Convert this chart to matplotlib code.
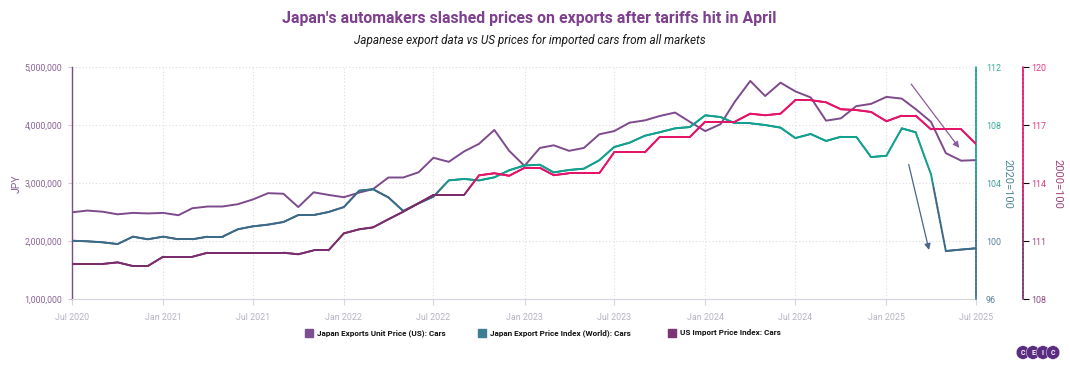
import matplotlib
matplotlib.use("Agg")

import matplotlib.dates as mdates
import matplotlib.pyplot as plt
import matplotlib.transforms as mtransforms
import numpy as np
import pandas as pd
from matplotlib.collections import LineCollection
from matplotlib.colors import LinearSegmentedColormap, Normalize
from matplotlib.patches import Circle, Rectangle
from matplotlib.ticker import FuncFormatter

plt.rcParams["font.family"] = ["Roboto", "DejaVu Sans"]

# ---- data ----
MONTHS = pd.date_range("2020-07-01", "2025-07-01", freq="MS")

JP_UNIT_PRICE = [
    2500000, 2530000, 2510000, 2465000, 2490000, 2480000, 2490000, 2450000,
    2570000, 2600000, 2600000, 2640000, 2720000, 2830000, 2820000, 2590000,
    2845000, 2800000, 2760000, 2840000, 2900000, 3100000, 3100000, 3190000,
    3440000, 3370000, 3550000, 3680000, 3920000, 3560000, 3300000, 3610000,
    3655000, 3560000, 3610000, 3845000, 3900000, 4045000, 4085000, 4160000,
    4220000, 4060000, 3900000, 4020000, 4410000, 4765000, 4505000, 4735000,
    4585000, 4480000, 4080000, 4120000, 4330000, 4370000, 4490000, 4460000,
    4280000, 4060000, 3520000, 3390000, 3400000,
]

JP_EXPORT_INDEX = [
    100.04, 100.00, 99.93, 99.81, 100.32, 100.14, 100.32, 100.14,
    100.14, 100.32, 100.32, 100.83, 101.03, 101.15, 101.33, 101.81,
    101.81, 102.02, 102.36, 103.49, 103.59, 103.03, 102.09, 102.62,
    103.08, 104.20, 104.30, 104.20, 104.41, 104.90, 105.23, 105.28,
    104.75, 104.92, 105.01, 105.59, 106.50, 106.80, 107.28, 107.52,
    107.79, 107.88, 108.69, 108.57, 108.14, 108.14, 108.02, 107.84,
    107.12, 107.40, 106.92, 107.21, 107.21, 105.81, 105.90, 107.79,
    107.52, 104.62, 99.33, 99.43, 99.52,
]

US_IMPORT_INDEX = [
    109.83, 109.83, 109.83, 109.91, 109.72, 109.72, 110.20, 110.20,
    110.20, 110.41, 110.41, 110.41, 110.41, 110.41, 110.41, 110.33,
    110.53, 110.53, 111.41, 111.62, 111.72, 112.14, 112.53, 112.97,
    113.40, 113.40, 113.40, 114.41, 114.52, 114.39, 114.80, 114.80,
    114.42, 114.52, 114.52, 114.52, 115.60, 115.60, 115.60, 116.40,
    116.40, 116.40, 117.19, 117.19, 117.19, 117.60, 117.52, 117.60,
    118.30, 118.30, 118.19, 117.83, 117.79, 117.69, 117.21, 117.50,
    117.50, 116.79, 116.79, 116.79, 116.03,
]

LEFT_TICKS = [1000000, 2000000, 3000000, 4000000, 5000000]
TEAL_TICKS = [96, 100, 104, 108, 112]
PINK_TICKS = [108, 111, 114, 117, 120]

TITLE = "Japan's automakers slashed prices on exports after tariffs hit in April"
SUBTITLE = "Japanese export data vs US prices for imported cars from all markets"
LEGEND_LABELS = [
    "Japan Exports Unit Price (US): Cars",
    "Japan Export Price Index (World): Cars",
    "US Import Price Index: Cars",
]

# arrow annotations: (start date, start value) -> (end date, end value)
PURPLE_ARROW = (("2025-02-20", 4710000), ("2025-05-28", 3610000))
TEAL_ARROW = (("2025-02-15", 105.3), ("2025-03-28", 99.4))

PURPLE = "#7d4b8c"
TEAL_CMAP = LinearSegmentedColormap.from_list("teal", ["#3d6a88", "#14a08e"])
PINK_CMAP = LinearSegmentedColormap.from_list("pink", ["#7a2c6c", "#e3146a"])

PINK_OFFSET_PX = 47


def gradient_line(ax, x, y, cmap, norm, lw=1.5, transform=None, steps=16, clip=True):
    x = np.asarray(x, dtype=float)
    y = np.asarray(y, dtype=float)
    segs, cols = [], []
    t = np.linspace(0, 1, steps + 1)
    for i in range(len(x) - 1):
        xs = x[i] + (x[i + 1] - x[i]) * t
        ys = y[i] + (y[i + 1] - y[i]) * t
        for j in range(steps):
            segs.append([(xs[j], ys[j]), (xs[j + 1], ys[j + 1])])
            cols.append(cmap(norm((ys[j] + ys[j + 1]) / 2)))
    lc = LineCollection(segs, colors=cols, linewidths=lw, capstyle="round",
                        joinstyle="round", zorder=3)
    if transform is not None:
        lc.set_transform(transform)
    lc.set_clip_on(clip)
    ax.add_collection(lc)
    return lc


def main() -> None:
    W, H = 1070, 365
    fig = plt.figure(figsize=(10.7, 3.65), dpi=100)
    ax = fig.add_axes([0.0673, 0.18, 0.8449, 0.6356])
    ax2 = ax.twinx()
    ax3 = ax.twinx()

    xnum = mdates.date2num(MONTHS)

    # left axis series
    ax.plot(xnum, JP_UNIT_PRICE, color=PURPLE, lw=1.4, zorder=3, solid_joinstyle="round")

    # gradient coloured index series
    teal_norm = Normalize(103.4, 104.3)
    pink_norm = Normalize(113.5, 114.3)
    gradient_line(ax2, xnum, JP_EXPORT_INDEX, TEAL_CMAP, teal_norm, lw=1.4)
    gradient_line(ax3, xnum, US_IMPORT_INDEX, PINK_CMAP, pink_norm, lw=1.4)

    ax.set_xlim(xnum[0], xnum[-1])
    ax.set_ylim(LEFT_TICKS[0], LEFT_TICKS[-1])
    ax2.set_ylim(TEAL_TICKS[0], TEAL_TICKS[-1])
    ax3.set_ylim(PINK_TICKS[0], PINK_TICKS[-1])

    # spines
    for side in ["top", "right"]:
        ax.spines[side].set_visible(False)
    ax.spines["left"].set_color(PURPLE)
    ax.spines["left"].set_linewidth(1.0)
    ax.spines["bottom"].set_color("#d6d6de")
    for a in (ax2, ax3):
        for s in a.spines.values():
            s.set_visible(False)

    # gradient right spines
    spine_teal_norm = Normalize(101, 106)
    spine_pink_norm = Normalize(110.5, 115)
    tr2 = mtransforms.blended_transform_factory(ax2.transAxes, ax2.transData)
    gradient_line(ax2, [1, 1], TEAL_TICKS[::4], TEAL_CMAP, spine_teal_norm,
                  lw=1.2, transform=tr2, steps=60, clip=False)
    tr3 = mtransforms.blended_transform_factory(ax3.transAxes, ax3.transData) + \
        mtransforms.ScaledTranslation(PINK_OFFSET_PX / 100, 0, fig.dpi_scale_trans)
    gradient_line(ax3, [1, 1], PINK_TICKS[::4], PINK_CMAP, spine_pink_norm,
                  lw=1.2, transform=tr3, steps=60, clip=False)
    # outward offset is in points
    ax3.spines["right"].set_position(("outward", PINK_OFFSET_PX * 72 / 100))

    # ticks
    ax.set_yticks(LEFT_TICKS)
    ax.yaxis.set_major_formatter(FuncFormatter(lambda v, p: f"{int(v):,}"))
    ax.tick_params(axis="y", colors="#d0c8d8", labelcolor="#8a6498", labelsize=6.3,
                   length=3, pad=4)
    ax.xaxis.set_major_locator(mdates.MonthLocator(bymonth=[1, 7]))
    ax.xaxis.set_major_formatter(mdates.DateFormatter("%b %Y"))
    ax.tick_params(axis="x", colors="#d6d6de", labelcolor="#b4b4c2", labelsize=6.4,
                   length=4, pad=6)

    ax2.set_yticks(TEAL_TICKS)
    ax2.tick_params(axis="y", length=0, pad=7, labelsize=6.4)
    for lbl, v in zip(ax2.get_yticklabels(), TEAL_TICKS):
        lbl.set_color(TEAL_CMAP(spine_teal_norm(v)))
        lbl.set_alpha(0.85)

    ax3.set_yticks(PINK_TICKS)
    ax3.tick_params(axis="y", length=4, width=0.8, pad=2, labelsize=6.4)
    for tick, v in zip(ax3.yaxis.get_major_ticks(), PINK_TICKS):
        c = PINK_CMAP(spine_pink_norm(v))
        tick.tick2line.set_color(c)
        tick.label2.set_color(c)
        tick.label2.set_alpha(0.85)

    ax.grid(True, color="#dcdce2", lw=0.8, linestyle=(0, (1, 2)))
    ax.set_axisbelow(True)

    # axis labels (placed as figure text so they sit clear of the tick labels)
    fig.text(17 / W, 1 - 184 / H, "JPY", rotation=90, ha="center", va="center",
             color="#8a6498", fontsize=7.5)
    fig.text(1007 / W, 1 - 184 / H, "2020=100", rotation=270, ha="center",
             va="center", color="#4f8894", fontsize=8)
    fig.text(1057 / W, 1 - 184 / H, "2000=100", rotation=270, ha="center",
             va="center", color="#a2437c", fontsize=8)

    # arrows
    (ps, pv), (pe, pev) = PURPLE_ARROW
    ax.annotate("", xy=(mdates.datestr2num(pe), pev), xytext=(mdates.datestr2num(ps), pv),
                arrowprops=dict(arrowstyle="-|>", color="#8a5c9a", lw=0.9,
                                mutation_scale=9, shrinkA=0, shrinkB=0), zorder=4)
    (ts, tv), (te, tev) = TEAL_ARROW
    ax2.annotate("", xy=(mdates.datestr2num(te), tev), xytext=(mdates.datestr2num(ts), tv),
                 arrowprops=dict(arrowstyle="-|>", color="#4a6688", lw=0.9,
                                 mutation_scale=9, shrinkA=0, shrinkB=0), zorder=4)

    # titles
    fig.text(0.495, 0.95, TITLE, ha="center", va="center", fontsize=11.4,
             fontweight="bold", color="#7d3f8e")
    fig.text(0.495, 0.89, SUBTITLE, ha="center", va="center", fontsize=8.5,
             style="italic", color="#1a1a1a")

    # legend
    legend_items = [
        (309, "#7b4f8f"),
        (482, "#3e7d92"),
        (672, "#7a3574"),
    ]
    for (cx, col), label in zip(legend_items, LEGEND_LABELS):
        fig.patches.append(Rectangle(((cx - 4) / W, 1 - 337 / H), 8 / W, 8 / H,
                                     transform=fig.transFigure, color=col))
        fig.text((cx + 8) / W, 1 - 333 / H, label, ha="left", va="center",
                 fontsize=5.9, fontweight="bold", color="#111111")

    # logo
    lax = fig.add_axes([1016 / W, 1 - 361 / H, 44 / W, 17 / H])
    lax.set_xlim(0, 44)
    lax.set_ylim(0, 17)
    lax.set_aspect("equal")
    lax.axis("off")
    for i, ch in enumerate("CEIC"):
        cx = 7 + i * 10
        lax.add_patch(Circle((cx, 8.5), 6.8, color="#5b2d80", ec="white", lw=0.3))
        lax.text(cx, 8.3, ch, ha="center", va="center", color="white", fontsize=5,
                 fontweight="bold")

    fig.savefig("out.png", dpi=100)


if __name__ == "__main__":
    main()
